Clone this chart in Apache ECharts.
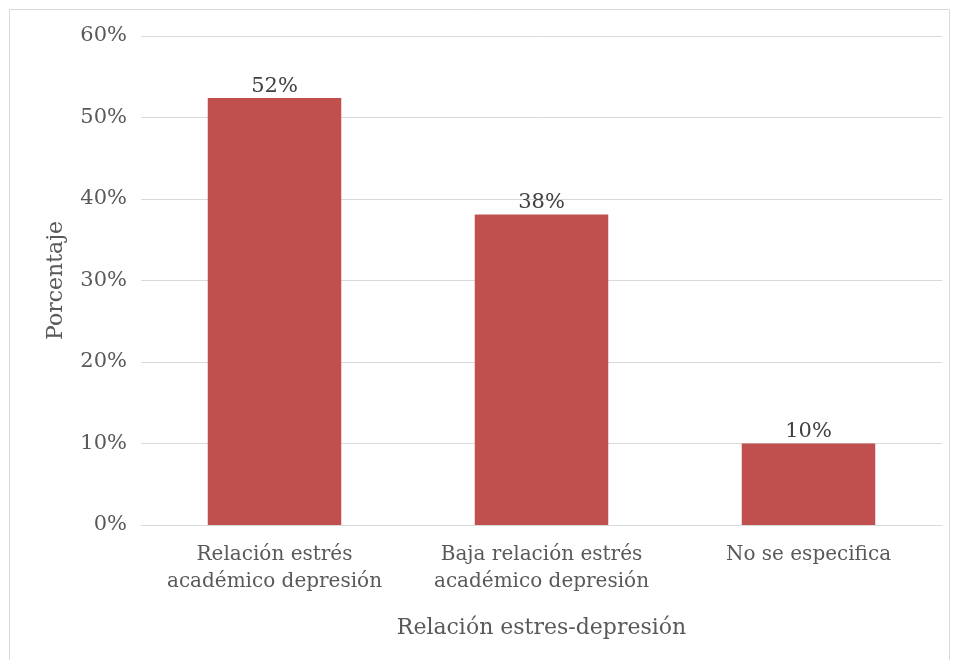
<!DOCTYPE html>
<html><head><meta charset="utf-8">
<script src="https://cdn.jsdelivr.net/npm/echarts@6/dist/echarts.min.js"></script>
<style>html,body{margin:0;padding:0;background:#fff}#c{width:954px;height:660px}</style>
</head><body><div id="c"></div>
<script>
const categories = ['Relación estrés\nacadémico depresión', 'Baja relación estrés\nacadémico depresión', 'No se especifica'];
const values = [52.4, 38.1, 10];
const yTicks = [0, 10, 20, 30, 40, 50, 60];
const xName = 'Relación estres-depresión';
const yName = 'Porcentaje';
const FONT = '"DejaVu Serif", serif';
const chart = echarts.init(document.getElementById('c'));
chart.setOption({
  animation: false,
  textStyle: {fontFamily: FONT},
  graphic: [{type: 'rect', shape: {x: 9.5, y: 9.5, width: 940, height: 660}, style: {fill: 'none', stroke: '#d9d9d9', lineWidth: 1}}],
  grid: {left: 141, right: 12, top: 36, bottom: 135},
  xAxis: {
    type: 'category', data: categories,
    name: xName, nameLocation: 'middle', nameGap: 92,
    nameTextStyle: {color: '#595959', fontSize: 22, fontFamily: FONT},
    axisLine: {lineStyle: {color: '#d9d9d9', width: 1}},
    axisTick: {show: false},
    axisLabel: {color: '#595959', fontSize: 20, fontFamily: FONT, lineHeight: 27, margin: 16, interval: 0}
  },
  yAxis: {
    type: 'value', min: yTicks[0], max: yTicks[yTicks.length - 1], interval: 10,
    name: yName, nameLocation: 'middle', nameGap: 74,
    nameTextStyle: {color: '#595959', fontSize: 22, fontFamily: FONT},
    axisLine: {show: false}, axisTick: {show: false},
    axisLabel: {color: '#595959', fontSize: 21, fontFamily: FONT, margin: 14, formatter: v => v + '%'},
    splitLine: {lineStyle: {color: '#d9d9d9', width: 1}}
  },
  series: [{
    type: 'bar', data: values, barWidth: '50%',
    itemStyle: {color: '#c0504d'},
    label: {show: true, position: 'top', distance: 1, color: '#404040', fontSize: 21, fontFamily: FONT, formatter: p => Math.round(p.value) + '%'}
  }]
});
</script></body></html>
